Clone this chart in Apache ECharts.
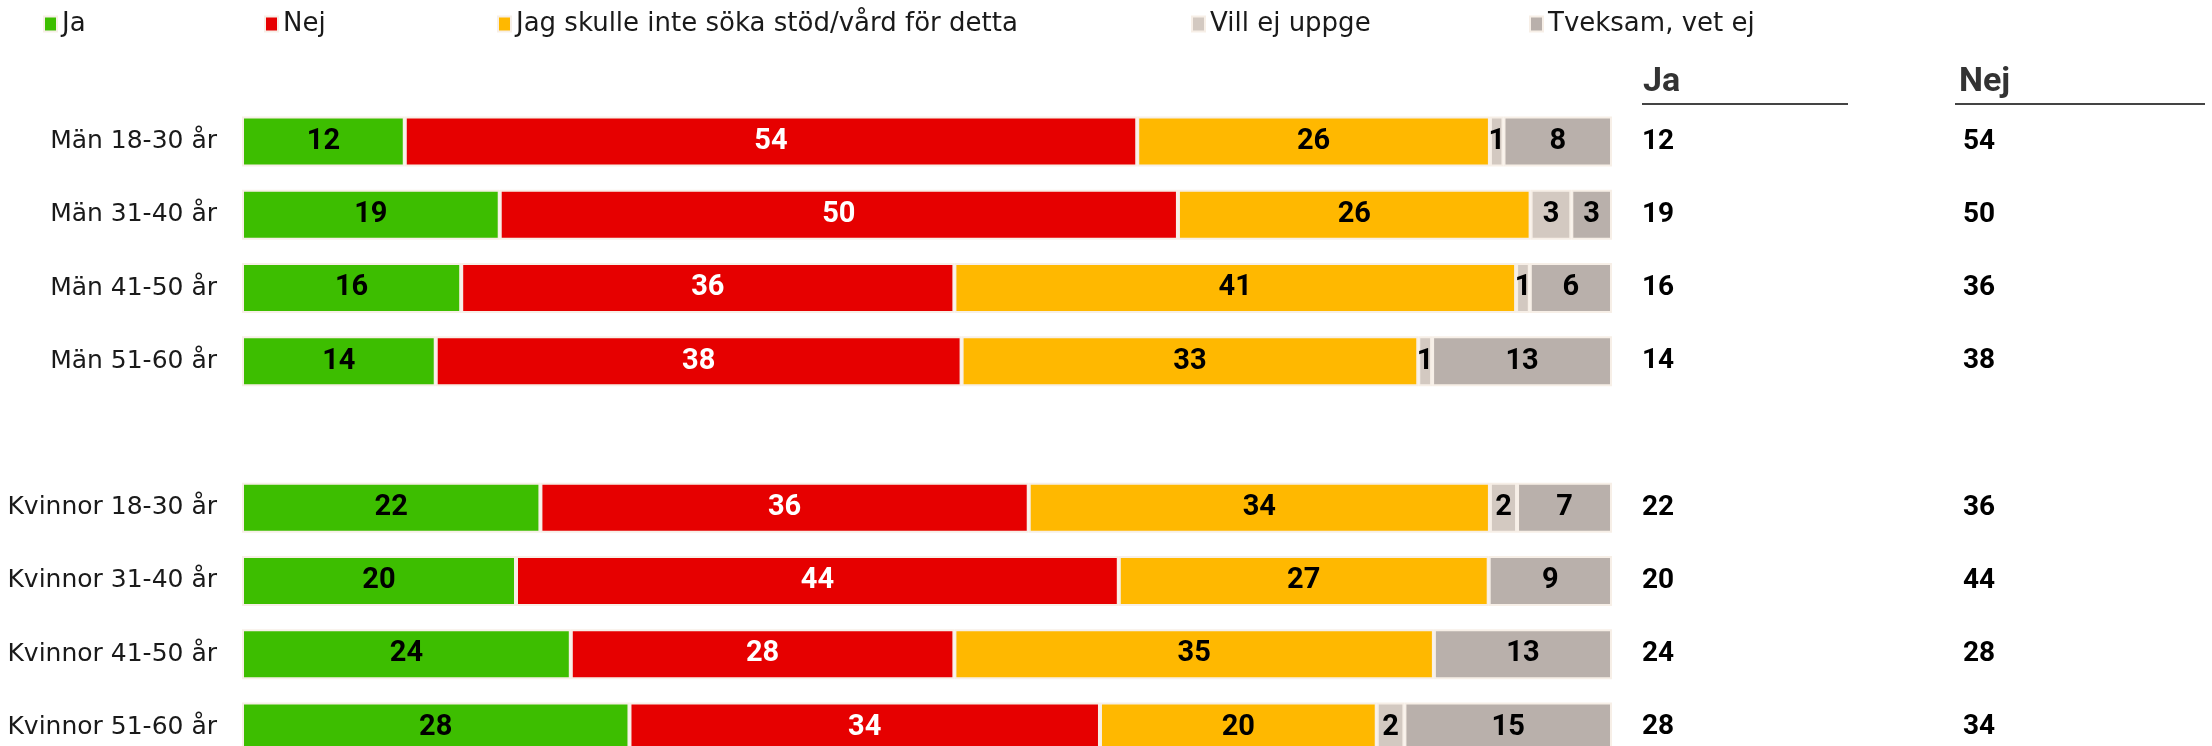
<!DOCTYPE html>
<html lang="sv">
<head>
    <meta charset="UTF-8">
    <title>Söka stöd/vård</title>
    <script src="https://cdn.jsdelivr.net/npm/echarts@6/dist/echarts.min.js"></script>
    <style>
        html, body { margin: 0; padding: 0; background: #fff; }
        #main { width: 2212px; height: 746px; }
    </style>
</head>
<body>
<div id="main"></div>
<script>
    // kategorier (tom rad mellan män och kvinnor)
    var categories = ['Män 18-30 år', 'Män 31-40 år', 'Män 41-50 år', 'Män 51-60 år', '',
        'Kvinnor 18-30 år', 'Kvinnor 31-40 år', 'Kvinnor 41-50 år', 'Kvinnor 51-60 år'];
    var seriesNames = ['Ja', 'Nej', 'Jag skulle inte söka stöd/vård för detta', 'Vill ej uppge', 'Tveksam, vet ej'];

    var jaData = [12, 19, 16, 14, null, 22, 20, 24, 28];
    var nejData = [54, 50, 36, 38, null, 36, 44, 28, 34];
    var skulleInteData = [26, 26, 41, 33, null, 34, 27, 35, 20];
    var villEjData = [1, 3, 1, 1, null, 2, null, null, 2];
    var tveksamData = [8, 3, 6, 13, null, 7, 9, 13, 15];

    var colors = ['#3dbe00', '#e60000', '#ffb800', '#d3c9c1', '#b9b0ab'];
    var labelColors = ['#000', '#fff', '#000', '#000', '#000'];

    var allData = [jaData, nejData, skulleInteData, villEjData, tveksamData];

    // varje stapel fylls till 100 %
    var rowSums = categories.map(function (c, i) {
        var s = 0;
        allData.forEach(function (d) { s += d[i] || 0; });
        return s;
    });

    var series = allData.map(function (d, k) {
        return {
            name: seriesNames[k],
            type: 'bar',
            stack: 'total',
            barWidth: 50,
            itemStyle: {
                color: colors[k],
                borderColor: '#f7efe7',
                borderWidth: 2
            },
            label: {
                show: true,
                position: 'inside',
                color: labelColors[k],
                fontFamily: 'Roboto',
                fontWeight: 'bold',
                fontSize: 29,
                formatter: function (p) { return p.data.raw == null ? '' : p.data.raw; }
            },
            data: d.map(function (v, i) {
                if (v == null) return { value: null, raw: null };
                return { value: v / rowSums[i] * 100, raw: v };
            })
        };
    });

    var legendLeft = [43, 264, 497, 1191, 1529];
    var legends = seriesNames.map(function (n, k) {
        return {
            data: [n],
            left: legendLeft[k],
            top: 10,
            padding: 0,
            icon: 'rect',
            itemWidth: 13,
            itemHeight: 15,
            selectedMode: false,
            textStyle: { fontFamily: 'DejaVu Sans', fontSize: 26, color: '#1a1a1a', lineHeight: 28 }
        };
    });

    var valueLabel = {
        fontFamily: 'Roboto',
        fontWeight: 'bold',
        fontSize: 28,
        color: '#000',
        align: 'left'
    };

    var myChart = echarts.init(document.getElementById('main'));
    var option = {
        animation: false,
        legend: legends,
        grid: { left: 242, right: 600, top: 105, height: 659, outerBoundsMode: 'none' },
        xAxis: { type: 'value', min: 0, max: 100, show: false },
        yAxis: [{
            type: 'category',
            inverse: true,
            data: categories,
            axisLine: { show: false },
            axisTick: { show: false },
            axisLabel: { margin: 25, fontFamily: 'DejaVu Sans', fontSize: 25, color: '#1a1a1a' }
        }, {
            type: 'category',
            inverse: true,
            position: 'right',
            data: categories,
            axisLine: { show: false },
            axisTick: { show: false },
            axisLabel: Object.assign({ margin: 30, formatter: function (v, i) { return jaData[i] == null ? '' : jaData[i]; } }, valueLabel)
        }, {
            type: 'category',
            inverse: true,
            position: 'right',
            data: categories,
            axisLine: { show: false },
            axisTick: { show: false },
            axisLabel: Object.assign({ margin: 351, formatter: function (v, i) { return nejData[i] == null ? '' : nejData[i]; } }, valueLabel)
        }],
        graphic: [
            { type: 'text', x: 1643, y: 82, style: { text: 'Ja', fontFamily: 'Roboto', fontWeight: 'bold', fontSize: 34, fill: '#333', verticalAlign: 'middle' } },
            { type: 'line', shape: { x1: 1642, y1: 104, x2: 1848, y2: 104 }, style: { stroke: '#444', lineWidth: 2 } },
            { type: 'text', x: 1959, y: 82, style: { text: 'Nej', fontFamily: 'Roboto', fontWeight: 'bold', fontSize: 34, fill: '#333', verticalAlign: 'middle' } },
            { type: 'line', shape: { x1: 1955, y1: 104, x2: 2205, y2: 104 }, style: { stroke: '#444', lineWidth: 2 } }
        ],
        series: series
    };
    myChart.setOption(option);

    window.addEventListener('resize', function () {
        myChart.resize();
    });
</script>
</body>
</html>
